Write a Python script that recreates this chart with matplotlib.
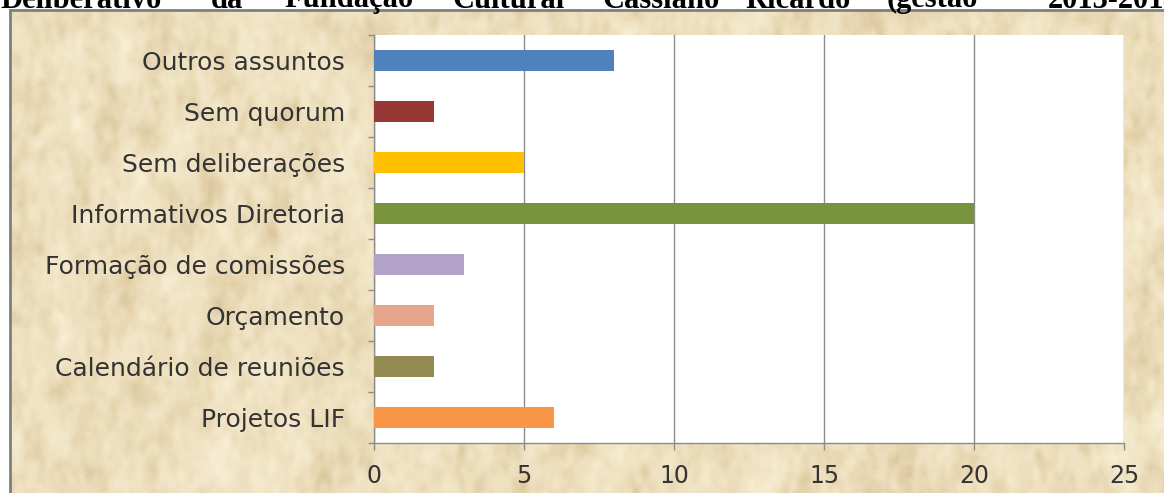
import numpy as np
import matplotlib
matplotlib.use('Agg')
import matplotlib.pyplot as plt
from matplotlib.ticker import FixedLocator

# Dados (de cima para baixo)
categorias = ['Outros assuntos', 'Sem quorum', 'Sem deliberações',
              'Informativos Diretoria', 'Formação de comissões',
              'Orçamento', 'Calendário de reuniões', 'Projetos LIF']
valores = [8, 2, 5, 20, 3, 2, 2, 6]
cores = ['#4F81BD', '#953735', '#FFC000', '#77933C',
         '#B3A2C7', '#E6A58C', '#948A54', '#F79646']

titulo = ['Deliberativo', 'da', 'Fundação', 'Cultural', 'Cassiano',
          'Ricardo', '(gestão', '2013-2014']
titulo_x = [0, 211, 284, 452, 602, 745, 887, 1048]

W, H = 1164, 493
cor_grade = '#8C8C8C'
cor_texto = '#333333'

fig = plt.figure(figsize=(W / 100, H / 100), dpi=100)
fig.patch.set_facecolor('white')

# Fundo tipo pergaminho
bg = fig.add_axes([10 / W, 0, 1 - 10 / W, (H - 10) / H])
rng = np.random.default_rng(7)
ny, nx = 240, 580
fy = np.fft.fftfreq(ny)[:, None]
fx = np.fft.fftfreq(nx)[None, :]


def manchas(escala_x, escala_y):
    ruido = rng.normal(size=(ny, nx))
    filtro = np.exp(-((fx * escala_x) ** 2 + (fy * escala_y) ** 2))
    s = np.real(np.fft.ifft2(np.fft.fft2(ruido) * filtro))
    return (s - s.mean()) / s.std()


t = manchas(20, 34) * 0.5 + manchas(6, 10) * 0.45 + rng.normal(size=(ny, nx)) * 0.2
t = np.clip(t, -2.5, 2.5)
base = np.array([238, 224, 191]) / 255
claro = np.array([249, 241, 216]) / 255
escuro = np.array([218, 197, 154]) / 255
k = t[..., None] / 2.5
img = np.where(k > 0, base + (claro - base) * k, base + (base - escuro) * k)
bg.imshow(np.clip(img, 0, 1), aspect='auto', interpolation='bicubic',
          extent=[0, 1, 0, 1])
bg.set_xlim(0, 1)
bg.set_ylim(0, 1)
bg.axis('off')

# Moldura cinza
fig.add_artist(plt.Line2D([10 / W, 1], [(H - 10) / H] * 2,
                          transform=fig.transFigure, color='#7F7F7F', lw=2))
fig.add_artist(plt.Line2D([10 / W] * 2, [0, (H - 10) / H],
                          transform=fig.transFigure, color='#7F7F7F', lw=2))

# Título (cortado no topo)
for palavra, x in zip(titulo, titulo_x):
    fig.text(x / W, 1 - 7.5 / H, palavra, fontsize=22, fontweight='bold',
             family='Liberation Serif', color='black', ha='left',
             va='baseline')

# Gráfico de barras
ax = fig.add_axes([374 / W, (H - 443) / H, (1124 - 374) / W, (443 - 35) / H])
ax.set_facecolor('white')
y = np.arange(len(categorias))
ax.barh(y, valores, height=0.4, color=cores, zorder=3)
ax.set_xlim(0, 25)
ax.set_ylim(len(categorias) - 0.5, -0.5)

ax.set_xticks(range(0, 26, 5))
ax.xaxis.grid(True, color=cor_grade, lw=1, zorder=1)
ax.tick_params(axis='x', direction='out', length=5, width=1, color=cor_grade,
               pad=10, labelsize=17, labelcolor=cor_texto)

ax.set_yticks(y)
ax.set_yticklabels(categorias)
ax.yaxis.set_minor_locator(FixedLocator(np.arange(-0.5, len(categorias), 1)))
ax.tick_params(axis='y', which='major', length=0, pad=21,
               labelsize=18, labelcolor=cor_texto)
ax.tick_params(axis='y', which='minor', direction='out', length=4,
               width=1, color=cor_grade)

for lbl in ax.get_xticklabels() + ax.get_yticklabels():
    lbl.set_family('DejaVu Sans')

for lado in ['top', 'right']:
    ax.spines[lado].set_visible(False)
for lado in ['left', 'bottom']:
    ax.spines[lado].set_color(cor_grade)
    ax.spines[lado].set_linewidth(1)

fig.savefig('out.png', dpi=100)
